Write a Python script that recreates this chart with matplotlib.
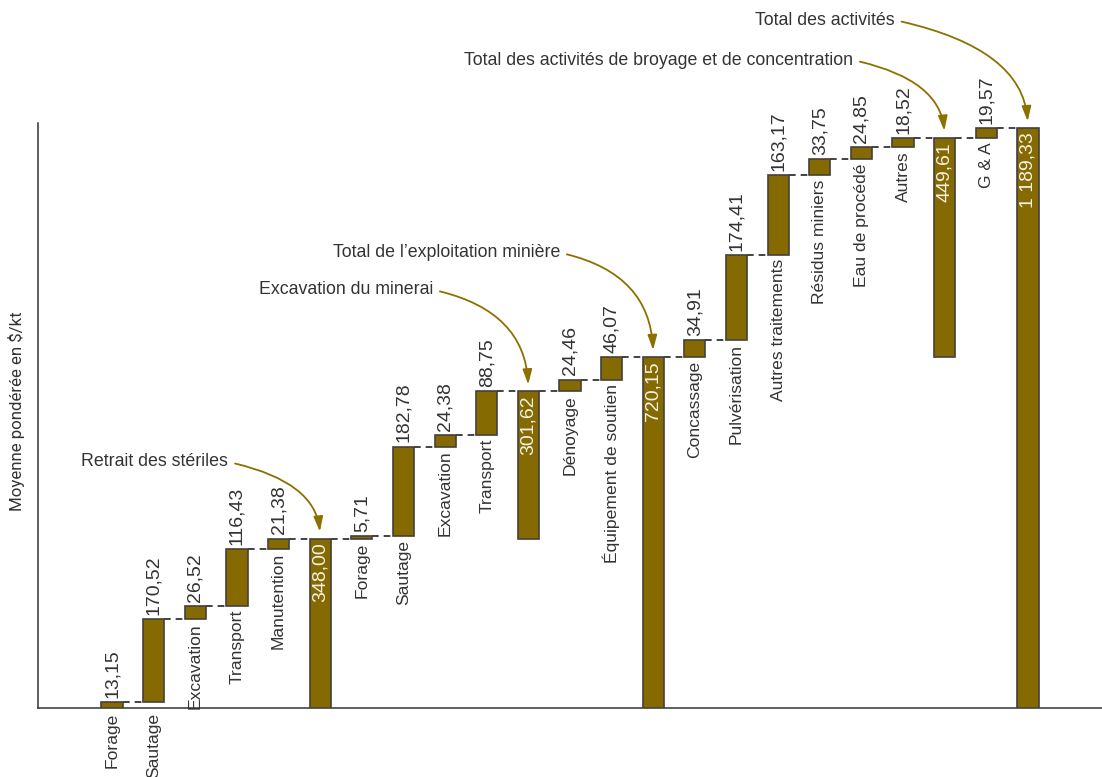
import matplotlib
matplotlib.use("Agg")
import matplotlib.pyplot as plt
from matplotlib import font_manager

# Waterfall of weighted average costs ($/kt), step bars and subtotals
categories = ["Forage", "Sautage", "Excavation", "Transport", "Manutention", "",
              "Forage", "Sautage", "Excavation", "Transport", "",
              "Dénoyage", "Équipement de soutien", "",
              "Concassage", "Pulvérisation", "Autres traitements", "Résidus miniers",
              "Eau de procédé", "Autres", "",
              "G & A", ""]
values = [13.15, 170.52, 26.52, 116.43, 21.38, 348.00,
          5.71, 182.78, 24.38, 88.75, 301.62,
          24.46, 46.07, 720.15,
          34.91, 174.41, 163.17, 33.75, 24.85, 18.52, 449.61,
          19.57, 1189.33]
is_total = [False, False, False, False, False, True,
            False, False, False, False, True,
            False, False, True,
            False, False, False, False, False, False, True,
            False, True]
total_names = ["Retrait des stériles", "Excavation du minerai",
               "Total de l’exploitation minière",
               "Total des activités de broyage et de concentration",
               "Total des activités"]

BAR = "#856A02"
EDGE = "#45403a"
TXT = "#333333"
ARROW = "#8C7000"


def pick(name, fallback):
    try:
        font_manager.findfont(name, fallback_to_default=False)
        return name
    except Exception:
        return fallback


SANS = pick("Liberation Sans", "DejaVu Sans")
NARROW = pick("Liberation Sans Narrow", SANS)
YFONT = pick("Roboto", SANS)


def fr(v):
    s = f"{v:,.2f}"
    return s.replace(",", " ").replace(".", ",")


fig = plt.figure(figsize=(11.02, 7.77), dpi=100)
ax = fig.add_axes([38 / 1102, 68.7 / 777, 1 - 38 / 1102, 585.3 / 777])
ax.set_xlim(-1.78, 23.78)
ax.set_ylim(0, 1200)

width = 0.51
cum = 0.0
tops = []
bottoms = []
for v, tot in zip(values, is_total):
    if tot:
        base = cum - v
    else:
        base = cum
        cum += v
    bottoms.append(base)
    tops.append(base + v)

xs = list(range(len(values)))
ax.bar(xs, [t - b for t, b in zip(tops, bottoms)], bottom=bottoms, width=width,
       color=BAR, edgecolor=EDGE, linewidth=1.2, zorder=3)

# dashed connectors between neighbouring bars
for i in range(len(values) - 1):
    ax.plot([i + width / 2, i + 1 - width / 2], [tops[i], tops[i]],
            color="#222222", lw=1.2, ls=(0, (4, 3)), zorder=2)

for i, (v, tot) in enumerate(zip(values, is_total)):
    if tot:
        ax.annotate(fr(v), (i, tops[i]), xytext=(0, -3), textcoords="offset points",
                    rotation=90, ha="center", va="top", color="#f4f1e6",
                    fontsize=14, family=SANS, zorder=4)
    else:
        ax.annotate(fr(v), (i, tops[i]), xytext=(0, 3), textcoords="offset points",
                    rotation=90, ha="center", va="bottom", color=TXT,
                    fontsize=14, family=SANS, zorder=4)
        ybase = bottoms[i] if bottoms[i] > 20 else 0
        ax.annotate(categories[i], (i, ybase), xytext=(0, -3), textcoords="offset points",
                    rotation=90, ha="center", va="top", color=TXT,
                    fontsize=12.6, family=SANS, annotation_clip=False)

# callouts for subtotal bars
total_idx = [i for i, t in enumerate(is_total) if t]
text_pos = [(2.79, 505), (7.71, 858), (10.76, 934), (17.80, 1329), (18.80, 1411)]
for name, idx, (tx, ty) in zip(total_names, total_idx, text_pos):
    ax.annotate(name, xy=(idx, tops[idx]), xytext=(tx, ty), textcoords="data",
                ha="right", va="center", fontsize=12.8, family=NARROW, color=TXT,
                annotation_clip=False,
                arrowprops=dict(arrowstyle="-|>,head_length=0.7,head_width=0.22",
                                connectionstyle="angle3,angleA=-12,angleB=90",
                                relpos=(1.0, 0.5),
                                color=ARROW, lw=1.3, shrinkA=3, shrinkB=5))

for s in ("top", "right"):
    ax.spines[s].set_visible(False)
for s in ("left", "bottom"):
    ax.spines[s].set_color("#333333")
    ax.spines[s].set_linewidth(1.1)
ax.set_xticks([])
ax.set_yticks([])
ax.set_ylabel("Moyenne pondérée en $/kt", fontsize=12.2, family=YFONT, color=TXT)
ax.yaxis.set_label_coords(-0.0125, 0.508)

fig.savefig("out.png", dpi=100)
